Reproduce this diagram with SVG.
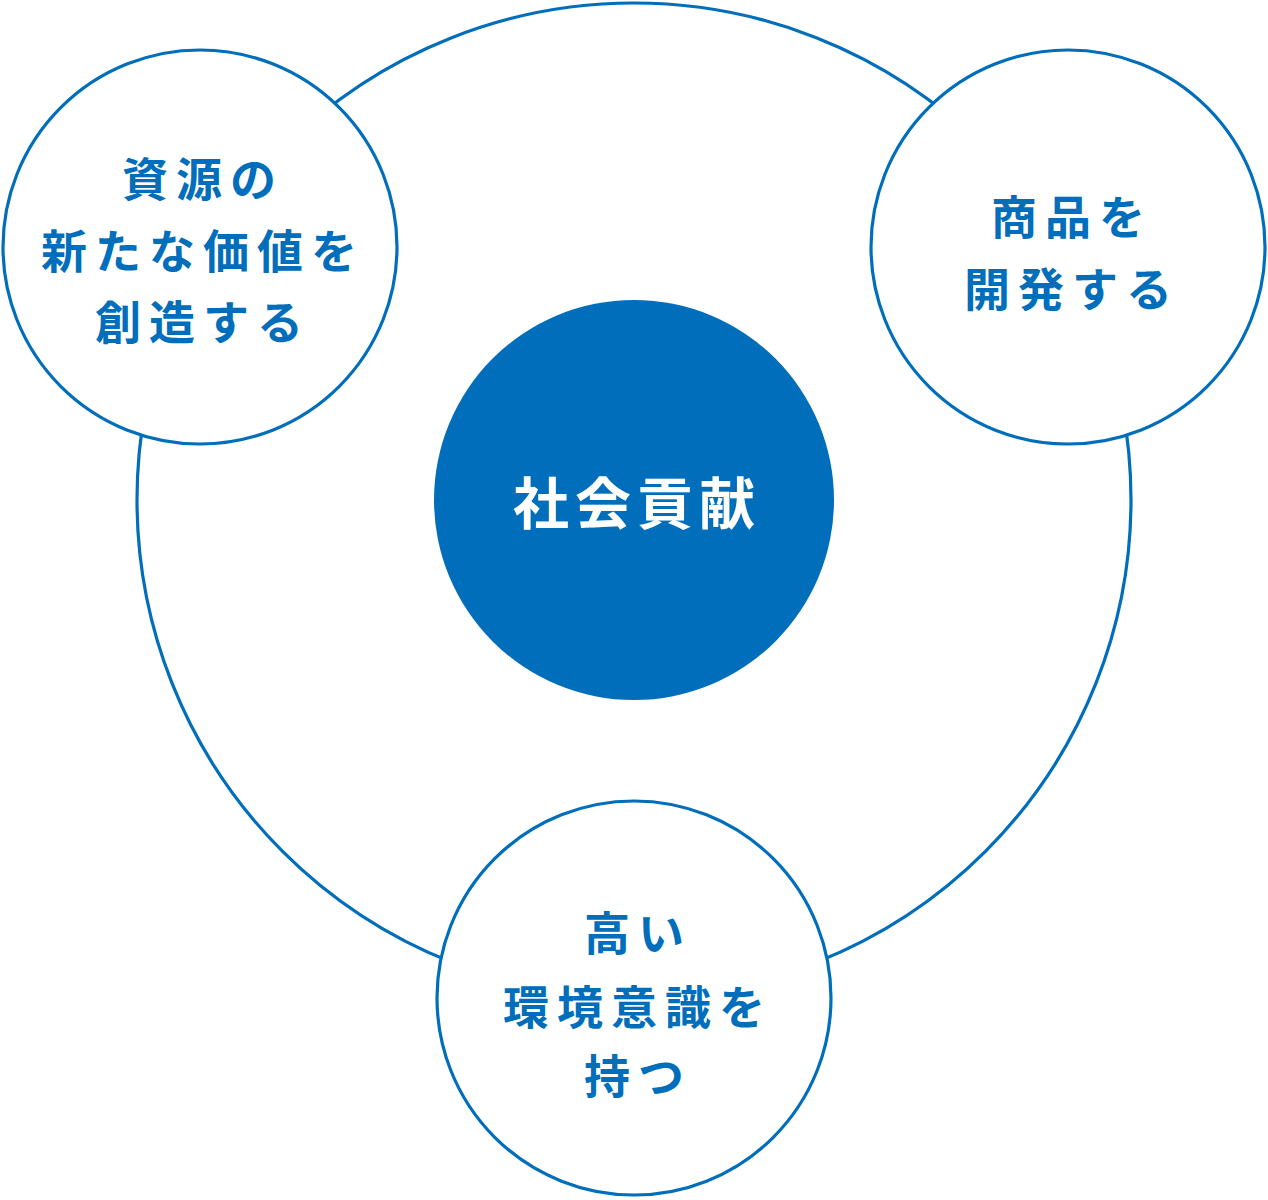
<svg xmlns="http://www.w3.org/2000/svg" width="1268" height="1200" viewBox="0 0 1268 1200">
<style>
.ring{fill:#fff;stroke:#006ebb;stroke-width:3.2}
.lbl{font-family:"Noto Sans CJK JP","Noto Sans CJK SC",sans-serif;font-weight:700;font-size:46px;letter-spacing:8px;fill:#006ebb;text-anchor:middle}
.core{font-family:"Noto Sans CJK JP","Noto Sans CJK SC",sans-serif;font-weight:700;font-size:56px;letter-spacing:6px;fill:#fff;text-anchor:middle}
</style>
<rect width="1268" height="1200" fill="#fff"/>
<g id="connectors">
<circle cx="634" cy="500" r="497" fill="none" stroke="#006ebb" stroke-width="3.2"/>
</g>
<g id="center">
<circle cx="634" cy="500" r="200" fill="#006ebb"/>
<text class="core" x="637" y="524">社会貢献</text>
</g>
<g id="node-left">
<circle class="ring" cx="200" cy="247" r="197"/>
<text class="lbl" x="203" y="196">資源の</text>
<text class="lbl" x="203" y="268">新たな価値を</text>
<text class="lbl" x="203" y="339">創造する</text>
</g>
<g id="node-right">
<circle class="ring" cx="1068" cy="247" r="197"/>
<text class="lbl" x="1072" y="234">商品を</text>
<text class="lbl" x="1072" y="306">開発する</text>
</g>
<g id="node-bottom">
<circle class="ring" cx="634" cy="998" r="197"/>
<text class="lbl" x="638" y="950">高い</text>
<text class="lbl" x="638" y="1024">環境意識を</text>
<text class="lbl" x="638" y="1093">持つ</text>
</g>
</svg>
